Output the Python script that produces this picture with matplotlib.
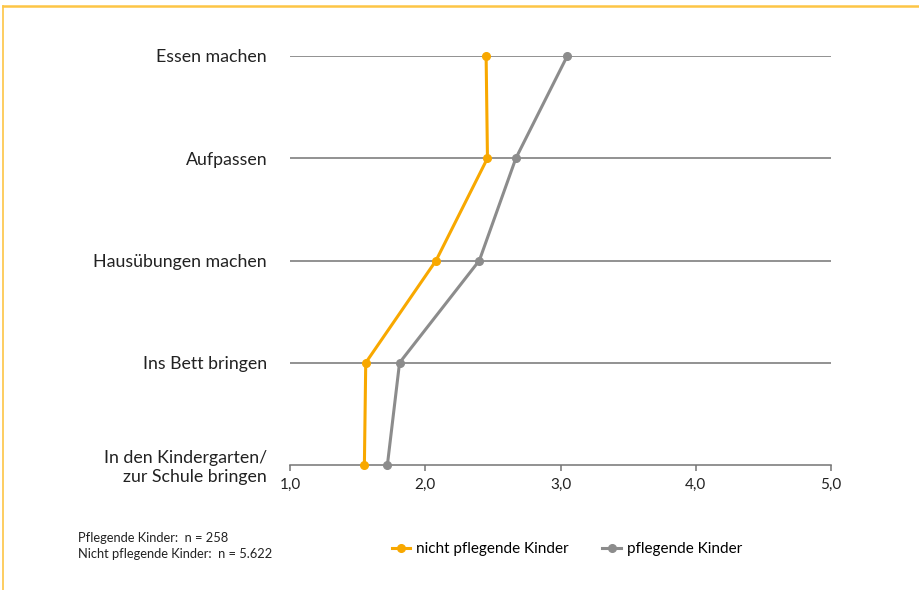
import matplotlib.pyplot as plt
from matplotlib.lines import Line2D

plt.rcParams['font.family'] = ['Lato', 'DejaVu Sans']

categories = ['In den Kindergarten/\nzur Schule bringen', 'Ins Bett bringen',
              'Hausübungen machen', 'Aufpassen', 'Essen machen']
nicht_pflegend = [1.55, 1.56, 2.08, 2.46, 2.45]
pflegend = [1.72, 1.81, 2.40, 2.67, 3.05]
xticks = [1, 2, 3, 4, 5]
xticklabels = ['1,0', '2,0', '3,0', '4,0', '5,0']

orange = '#F8A800'
grey = '#8C8C8C'

fig = plt.figure(figsize=(9.19, 5.90), dpi=100)
ax = fig.add_axes([290 / 919, 1 - 465 / 590, 541 / 919, 409 / 590])

ypos = list(range(len(categories)))
for y in ypos[1:]:
    ax.axhline(y, color='#747474', lw=1.1, zorder=1)

ax.plot(nicht_pflegend, ypos, color=orange, lw=2.2, marker='o', ms=5.5,
        label='nicht pflegende Kinder', clip_on=False, zorder=3)
ax.plot(pflegend, ypos, color=grey, lw=2.2, marker='o', ms=5.5,
        label='pflegende Kinder', clip_on=False, zorder=3)

ax.set_xlim(1, 5)
ax.set_ylim(0, 4)
ax.set_xticks(xticks)
ax.set_xticklabels(xticklabels, fontsize=11, color='#222222')
ax.set_yticks(ypos)
ax.set_yticklabels(categories, fontsize=12.8, color='#222222', ha='right')
ax.tick_params(axis='y', length=0, pad=16.5)
ax.tick_params(axis='x', length=4, color='#747474', width=1.1, pad=5)
for s in ['top', 'right', 'left']:
    ax.spines[s].set_visible(False)
ax.spines['bottom'].set_color('#747474')
ax.spines['bottom'].set_linewidth(1.1)
ax.spines['bottom'].set_zorder(1)

fig.legend(loc='center', bbox_to_anchor=(567 / 919, 1 - 549 / 590), ncol=2,
           frameon=False, fontsize=11, handlelength=1.2, columnspacing=2.2,
           handletextpad=0.4)

fig.text(78 / 919, 1 - 538 / 590, 'Pflegende Kinder:  n = 258', fontsize=9.3,
         va='center', color='#222222')
fig.text(78 / 919, 1 - 554 / 590, 'Nicht pflegende Kinder:  n = 5.622', fontsize=9.3,
         va='center', color='#222222')

# orange frame lines at top and left
fig.add_artist(Line2D([3 / 919, 1], [1 - 6 / 590, 1 - 6 / 590],
                      color='#FDC545', lw=1.8, transform=fig.transFigure))
fig.add_artist(Line2D([3 / 919, 3 / 919], [1 - 6 / 590, 0],
                      color='#FDC545', lw=1.2, transform=fig.transFigure))

fig.savefig('out.png', dpi=100)
